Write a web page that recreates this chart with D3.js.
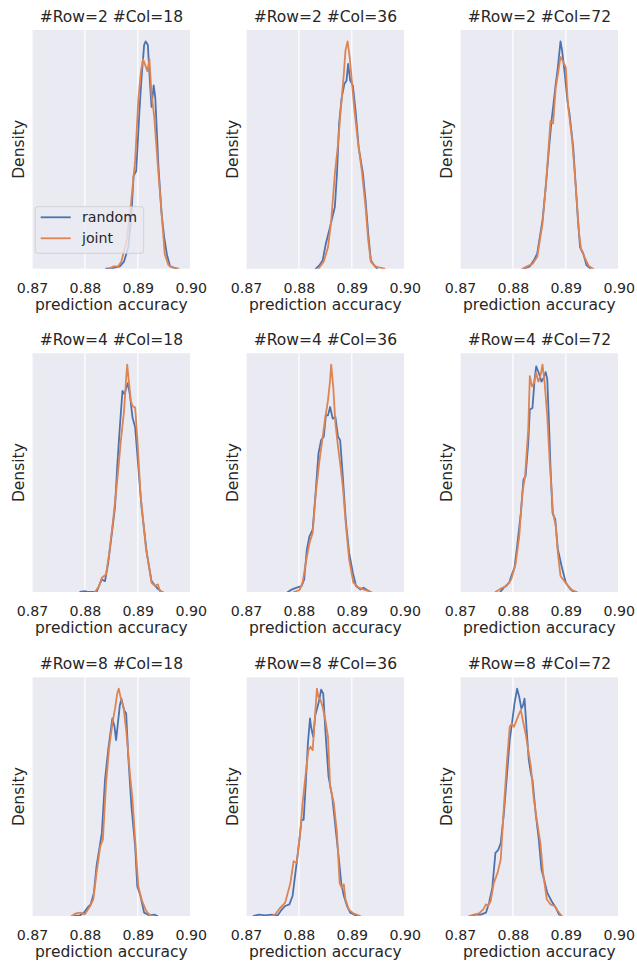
<!DOCTYPE html>
<html>
<head>
<meta charset="utf-8">
<script src="https://cdn.jsdelivr.net/npm/d3@7"></script>
<style>
  html, body { margin: 0; padding: 0; background: #ffffff; }
  svg { display: block; }
  text { font-family: "DejaVu Sans", sans-serif; fill: #262626; }
</style>
</head>
<body>
<div id="chart"></div>
<script>
// ---------- data ----------
const rowCounts = [2, 4, 8];
const colCounts = [18, 36, 72];
const seriesNames = ["random", "joint"];
const xTicks = [0.87, 0.88, 0.89, 0.90];
const xDomain = [0.87, 0.90];

// each series: [prediction accuracy, relative density]
const r2c18_random = [[0.8840,0],[0.8854,0.3],[0.8866,1],[0.8874,3],[0.8882,9],[0.8888,23],[0.8892,39],[0.8897,41],[0.8903,66],[0.8907,80],[0.8912,94],[0.8915,95.5],[0.8919,94],[0.8923,78],[0.8926,68],[0.8930,77],[0.8933,72],[0.8939,43],[0.8945,23],[0.8950,13],[0.8955,6],[0.8961,1],[0.8973,0]];
const r2c18_joint = [[0.8846,0],[0.8854,1],[0.8863,1],[0.8869,3],[0.8879,12],[0.8887,27],[0.8895,45.5],[0.8901,71],[0.8906,83],[0.8910,88],[0.8915,85],[0.8918,83],[0.8922,88],[0.8926,73],[0.8931,64],[0.8939,40],[0.8947,17.6],[0.8951,6],[0.8958,1.5],[0.8967,0.4],[0.8977,0]];

const r2c36_random = [[0.8832,0],[0.8839,1.5],[0.8845,3.6],[0.8851,10.6],[0.8859,17.6],[0.8868,26],[0.8872,40],[0.8876,61],[0.8881,72],[0.8886,77.7],[0.8890,79],[0.8893,86],[0.8897,79],[0.8902,77],[0.8907,66.5],[0.8913,51],[0.8921,40],[0.8926,28.8],[0.8931,14.8],[0.8936,3.6],[0.8942,1.5],[0.8948,0]];
const r2c36_joint = [[0.8837,0],[0.8847,3],[0.8855,9],[0.8861,20],[0.8868,40],[0.8874,52.5],[0.8879,66.5],[0.8885,82],[0.8888,91.6],[0.8892,95.5],[0.8896,88.8],[0.8900,79],[0.8905,66.5],[0.8912,52.5],[0.8919,41],[0.8926,26],[0.8931,12],[0.8936,3],[0.8944,1],[0.8954,0.4],[0.8962,0]];

const r2c72_random = [[0.8821,0],[0.8832,1],[0.8840,3.6],[0.8846,6.4],[0.8856,20.4],[0.8862,34],[0.8868,50],[0.8873,62],[0.8881,77.7],[0.8885,84.6],[0.8890,95.5],[0.8893,91.6],[0.8898,82],[0.8903,70.7],[0.8907,65],[0.8914,51],[0.8919,34],[0.8923,20.4],[0.8927,9],[0.8933,6.4],[0.8939,1.5],[0.8947,0]];
const r2c72_joint = [[0.8818,0],[0.8827,1],[0.8837,2],[0.8846,5],[0.8856,19],[0.8864,40],[0.8871,62],[0.8876,61],[0.8881,76],[0.8886,83],[0.8890,89],[0.8895,87],[0.8900,84.6],[0.8904,69],[0.8912,54],[0.8919,34],[0.8925,15],[0.8929,8],[0.8938,3.6],[0.8944,1],[0.8952,0]];

const r4c18_random = [[0.8791,0],[0.8800,0.4],[0.8806,0],[0.8822,0],[0.8829,3.9],[0.8832,5.3],[0.8838,4.6],[0.8844,12.3],[0.8851,24.8],[0.8857,36],[0.8861,52.6],[0.8866,69.4],[0.8871,84.7],[0.8875,83.3],[0.8878,86],[0.8881,88],[0.8885,83.3],[0.8890,73.5],[0.8895,69.4],[0.8900,55.4],[0.8907,36],[0.8917,16.4],[0.8926,4.6],[0.8936,1.8],[0.8945,0]];
const r4c18_joint = [[0.8819,0],[0.8827,2.5],[0.8832,6],[0.8840,7.4],[0.8846,16.4],[0.8852,27.6],[0.8860,44.3],[0.8868,63.8],[0.8874,76.3],[0.8878,90],[0.8880,95.8],[0.8883,88.9],[0.8887,80.5],[0.8890,78.4],[0.8895,77.7],[0.8899,65.2],[0.8905,41.5],[0.8915,19.2],[0.8926,3.9],[0.8933,2.5],[0.8938,3.2],[0.8942,0.4],[0.8948,0]];

const r4c36_random = [[0.8779,0],[0.8787,1.1],[0.8796,1.8],[0.8805,2.5],[0.8810,5.3],[0.8815,17.8],[0.8820,23.4],[0.8826,26.2],[0.8831,40],[0.8837,58.2],[0.8842,63.8],[0.8847,65.2],[0.8851,74.2],[0.8855,74.2],[0.8859,77.7],[0.8864,72.8],[0.8869,73.5],[0.8874,65.2],[0.8878,63.8],[0.8883,48.5],[0.8889,29],[0.8895,16.4],[0.8902,8],[0.8908,2.5],[0.8916,1.1],[0.8922,1.8],[0.8929,0.8],[0.8935,0]];
const r4c36_joint = [[0.8790,0],[0.8801,0.8],[0.8807,3.9],[0.8813,12.3],[0.8820,20.6],[0.8826,24.8],[0.8832,41.5],[0.8839,55.4],[0.8845,65.2],[0.8850,73.5],[0.8855,80.5],[0.8859,88.9],[0.8861,95.5],[0.8865,86],[0.8869,70.8],[0.8874,61],[0.8878,54],[0.8883,44.3],[0.8889,27.6],[0.8895,13.6],[0.8903,3.9],[0.8913,1.8],[0.8922,1.1],[0.8937,0]];

const r4c72_random = [[0.8776,0],[0.8783,1.8],[0.8793,3.9],[0.8797,6.7],[0.8803,10.2],[0.8808,19.2],[0.8815,33],[0.8820,47],[0.8824,48.5],[0.8829,62.4],[0.8832,76.3],[0.8837,77],[0.8841,88.9],[0.8844,94.4],[0.8849,91.6],[0.8854,88],[0.8858,89.6],[0.8862,92],[0.8865,88.9],[0.8868,72],[0.8871,52.6],[0.8875,33],[0.8880,30.4],[0.8885,17.8],[0.8892,10.9],[0.8900,3.9],[0.8909,1.1],[0.8915,0]];
const r4c72_joint = [[0.8767,0],[0.8777,1.4],[0.8788,2.5],[0.8797,5.3],[0.8805,11.6],[0.8812,23.4],[0.8818,41.5],[0.8823,48.5],[0.8829,68],[0.8832,90.3],[0.8836,86],[0.8840,87.5],[0.8844,91.6],[0.8848,88],[0.8852,90.3],[0.8856,95.1],[0.8860,87.5],[0.8865,73.5],[0.8870,52.6],[0.8876,33],[0.8881,27.6],[0.8885,16.4],[0.8890,6.7],[0.8897,4.6],[0.8904,2.5],[0.8912,0.8],[0.8921,0]];

const r8c18_random = [[0.8781,0],[0.8791,0.3],[0.8798,1.4],[0.8805,3.5],[0.8811,4.9],[0.8817,9.7],[0.8822,20.9],[0.8827,27.9],[0.8832,34.8],[0.8838,57.1],[0.8844,69.6],[0.8849,78],[0.8852,82.9],[0.8856,79.4],[0.8859,73.8],[0.8863,82.2],[0.8866,88.4],[0.8869,91.2],[0.8874,86.4],[0.8878,85],[0.8882,66.9],[0.8888,46],[0.8895,29.2],[0.8899,12.5],[0.8905,8.4],[0.8912,1.4],[0.8922,0.3],[0.8931,0.6],[0.8937,0]];
const r8c18_joint = [[0.8775,0],[0.8783,1.1],[0.8791,1.4],[0.8800,0.7],[0.8810,4.2],[0.8816,7],[0.8822,18.1],[0.8829,29.2],[0.8834,32],[0.8840,55.7],[0.8846,71],[0.8852,80.8],[0.8857,87],[0.8861,93.3],[0.8864,95.4],[0.8868,91.2],[0.8873,87.7],[0.8878,78],[0.8882,68.2],[0.8885,59.9],[0.8890,48.7],[0.8895,32],[0.8901,12.5],[0.8907,7],[0.8916,2.1],[0.8923,0.3],[0.8929,0]];

const r8c36_random = [[0.8714,0],[0.8724,0.6],[0.8737,0.3],[0.8749,0.6],[0.8760,0.3],[0.8768,2.8],[0.8774,4.2],[0.8782,4.9],[0.8788,8.4],[0.8795,20.9],[0.8801,32],[0.8805,40.4],[0.8809,40.4],[0.8813,55.7],[0.8817,72.4],[0.8821,82.9],[0.8823,79.4],[0.8827,75.2],[0.8831,84.3],[0.8836,88.4],[0.8839,91.2],[0.8842,95],[0.8846,93.3],[0.8850,78],[0.8856,58.5],[0.8863,50.1],[0.8869,37.6],[0.8875,25.1],[0.8880,13.9],[0.8885,8.4],[0.8891,4.2],[0.8897,1.4],[0.8907,0.3],[0.8913,0]];
const r8c36_joint = [[0.8746,0],[0.8755,0.6],[0.8765,3.5],[0.8774,5.6],[0.8784,13.9],[0.8790,23],[0.8796,22.3],[0.8803,36.2],[0.8807,47.4],[0.8813,59.9],[0.8818,69.6],[0.8822,71],[0.8826,69.6],[0.8830,82.2],[0.8834,95.4],[0.8837,91.9],[0.8841,90.5],[0.8845,87.7],[0.8850,82.2],[0.8855,75.2],[0.8859,54.3],[0.8866,47.4],[0.8872,34.8],[0.8877,13.9],[0.8881,11.8],[0.8885,13.2],[0.8888,7],[0.8894,2.8],[0.8903,1.1],[0.8916,0]];

const r8c72_random = [[0.8720,0],[0.8730,0.6],[0.8739,0.6],[0.8749,1.4],[0.8755,5.6],[0.8761,11.8],[0.8767,26.5],[0.8772,27.6],[0.8777,30.6],[0.8783,43.2],[0.8789,59.9],[0.8794,73.8],[0.8799,82.2],[0.8803,89.1],[0.8808,95.4],[0.8812,91.9],[0.8816,87],[0.8819,88.4],[0.8822,91.2],[0.8826,78],[0.8830,65.5],[0.8834,59.9],[0.8837,57.1],[0.8843,43.2],[0.8849,32],[0.8854,19.5],[0.8859,15.3],[0.8865,9.7],[0.8873,6.3],[0.8881,3.5],[0.8887,0.7],[0.8892,0]];
const r8c72_joint = [[0.8717,0],[0.8726,0.6],[0.8736,1.1],[0.8744,2.8],[0.8749,4.9],[0.8753,4.2],[0.8758,6.3],[0.8764,13.9],[0.8771,18.1],[0.8777,23.7],[0.8783,46],[0.8789,65.5],[0.8794,79.4],[0.8798,80.8],[0.8802,79.4],[0.8807,82.2],[0.8812,85],[0.8815,86.4],[0.8820,80.8],[0.8824,76.6],[0.8829,69.6],[0.8834,62.7],[0.8839,50.1],[0.8845,40.4],[0.8852,30.6],[0.8857,18.1],[0.8864,7],[0.8871,4.9],[0.8879,4.2],[0.8885,2.1],[0.8892,0]];

const panelSeries = [
  [[r2c18_random, r2c18_joint], [r2c36_random, r2c36_joint], [r2c72_random, r2c72_joint]],
  [[r4c18_random, r4c18_joint], [r4c36_random, r4c36_joint], [r4c72_random, r4c72_joint]],
  [[r8c18_random, r8c18_joint], [r8c36_random, r8c36_joint], [r8c72_random, r8c72_joint]]
];

// ---------- layout ----------
const W = 637, H = 962;
const colLeft = [32, 246, 460];
const rowTop = [30, 353.3, 677.3];
const pw = 158.7, ph = 238.7;
const colors = ["#4C72B0", "#DD8452"];

const svg = d3.select("#chart").append("svg")
  .attr("width", W).attr("height", H);

rowCounts.forEach((rc, ri) => {
  colCounts.forEach((cc, ci) => {
    const g = svg.append("g")
      .attr("transform", `translate(${colLeft[ci]},${rowTop[ri]})`);
    const series = panelSeries[ri][ci];
    const x = d3.scaleLinear().domain(xDomain).range([0, pw]);
    const ymax = d3.max(series, s => d3.max(s, d => d[1])) * 1.05;
    const y = d3.scaleLinear().domain([0, ymax]).range([ph, 0]);

    g.append("rect").attr("width", pw).attr("height", ph).attr("fill", "#EAEAF2");

    // grid lines
    g.selectAll("line.grid").data(xTicks).enter().append("line")
      .attr("class", "grid")
      .attr("x1", d => x(d)).attr("x2", d => x(d))
      .attr("y1", 0).attr("y2", ph)
      .attr("stroke", "#ffffff").attr("stroke-width", 1.2);

    // x axis
    const ax = g.append("g").attr("transform", `translate(0,${ph})`)
      .call(d3.axisBottom(x).tickValues(xTicks).tickFormat(d3.format(".2f")).tickSize(0).tickPadding(14));
    ax.select(".domain").remove();
    ax.selectAll("text").style("font-size", "14.2px").attr("fill", "#262626")
      .style("font-family", "'DejaVu Sans', sans-serif");

    const clipId = `clip-${ri}-${ci}`;
    g.append("clipPath").attr("id", clipId).append("rect").attr("width", pw).attr("height", ph);

    const line = d3.line().x(d => x(d[0])).y(d => y(d[1]));
    series.forEach((s, si) => {
      g.append("path").datum(s)
        .attr("clip-path", `url(#${clipId})`)
        .attr("d", line)
        .attr("fill", "none")
        .attr("stroke", colors[si])
        .attr("stroke-width", 1.8)
        .attr("stroke-linejoin", "round")
        .attr("stroke-linecap", "round");
    });

    // title
    g.append("text").attr("x", pw / 2).attr("y", -8)
      .attr("text-anchor", "middle").style("font-size", "15.5px")
      .text(`#Row=${rc} #Col=${cc}`);
    // x label
    g.append("text").attr("x", pw / 2).attr("y", ph + 41.3)
      .attr("text-anchor", "middle").style("font-size", "15.5px")
      .text("prediction accuracy");
    // y label
    g.append("text")
      .attr("transform", `translate(-8,${ph / 2}) rotate(-90)`)
      .attr("text-anchor", "middle").style("font-size", "15.5px")
      .text("Density");

    if (ri === 0 && ci === 0) {
      const lg = g.append("g").attr("transform", `translate(3.3,176.7)`);
      lg.append("rect").attr("width", 108.4).attr("height", 46.6)
        .attr("rx", 2.5).attr("ry", 2.5)
        .attr("fill", "#EAEAF2").attr("fill-opacity", 0.8)
        .attr("stroke", "#cccccc").attr("stroke-width", 0.8);
      seriesNames.forEach((name, si) => {
        const yy = 10.6 + si * 21;
        lg.append("line").attr("x1", 5.4).attr("x2", 35.4)
          .attr("y1", yy).attr("y2", yy)
          .attr("stroke", colors[si]).attr("stroke-width", 1.8);
        lg.append("text").attr("x", 46.7).attr("y", yy + 5)
          .style("font-size", "14.2px").text(name);
      });
    }
  });
});
</script>
</body>
</html>
